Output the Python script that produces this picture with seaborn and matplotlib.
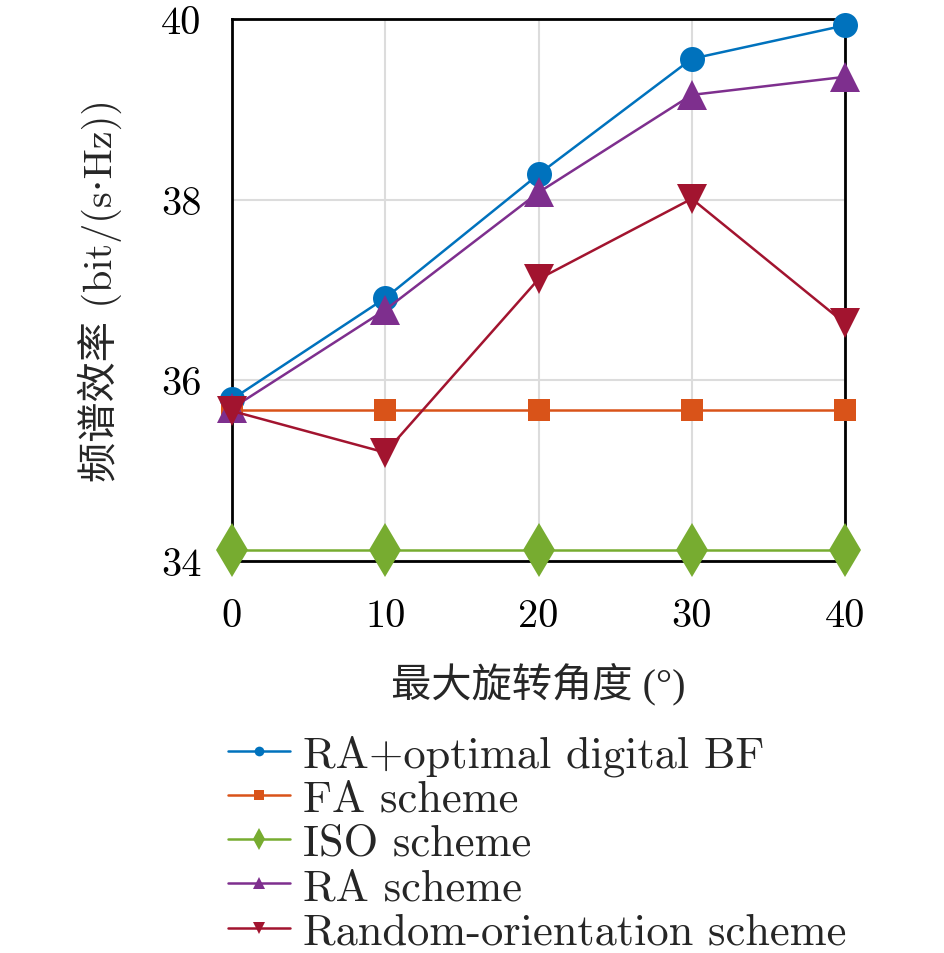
import matplotlib
matplotlib.use("Agg")
import matplotlib.pyplot as plt
import seaborn as sns
import pandas as pd

angles = [0, 10, 20, 30, 40]
ra_opt = [35.79, 36.91, 38.28, 39.56, 39.93]
fa = [35.67, 35.67, 35.67, 35.67, 35.67]
iso = [34.12, 34.12, 34.12, 34.12, 34.12]
ra = [35.69, 36.78, 38.08, 39.16, 39.36]
rand_orient = [35.66, 35.20, 37.12, 38.01, 36.63]

names = ["RA+optimal digital BF", "FA scheme", "ISO scheme", "RA scheme",
         "Random-orientation scheme"]
series = [ra_opt, fa, iso, ra, rand_orient]
colors = ["#0072BD", "#D95319", "#77AC30", "#7E2F8E", "#A2142F"]
markers = ["o", "s", "d", "^", "v"]
msizes = [18, 15.5, 27, 21, 21]
leg_msizes = [7, 7, 11, 8.5, 8.5]
xticks = [0, 10, 20, 30, 40]
yticks = [34, 36, 38, 40]

sns.set_style("white")
plt.rcParams['font.family'] = ['cmr10', 'DejaVu Serif', 'Noto Sans CJK SC']
plt.rcParams['axes.formatter.use_mathtext'] = True
plt.rcParams['axes.unicode_minus'] = False

fig = plt.figure(figsize=(9.45, 9.54), dpi=100)
ax = fig.add_axes([0.2455, 0.411, 0.6487, 0.568])

for name, vals, c, m, ms in zip(names, series, colors, markers, msizes):
    df = pd.DataFrame({"x": angles, "y": vals})
    sns.lineplot(data=df, x="x", y="y", ax=ax, color=c, marker=m,
                 markersize=ms, markeredgewidth=0, linewidth=1.8,
                 label=name, clip_on=False, zorder=3)

ax.set_xlim(0, 40)
ax.set_ylim(34, 40)
ax.set_xticks(xticks)
ax.set_yticks(yticks)
ax.set_xticklabels([str(t) for t in xticks])
ax.set_yticklabels([str(t) for t in yticks])
ax.grid(True, color="#dcdcdc", linewidth=1.5)
ax.set_axisbelow(True)
for sp in ax.spines.values():
    sp.set_visible(True)
    sp.set_color("black")
    sp.set_linewidth(2.0)
    sp.set_zorder(2.5)
ax.tick_params(axis='both', direction='in', length=5, width=1.5,
               labelsize=29, colors='black')
ax.tick_params(axis='x', pad=27)
ax.tick_params(axis='y', pad=22)

ax.set_xlabel("最大旋转角度 (°)", fontsize=29, labelpad=20,
              family=['Liberation Serif', 'Noto Sans CJK SC'])
ax.set_ylabel("频谱效率 (bit/(s·Hz))", fontsize=29, labelpad=28,
              family=['cmr10', 'DejaVu Serif', 'Noto Sans CJK SC'])

leg = ax.legend(loc="upper left", bbox_to_anchor=(-0.036, -0.287),
                frameon=False, fontsize=32, handlelength=1.4,
                handletextpad=0.3, labelspacing=0.09, borderaxespad=0)
for h, lms in zip(leg.legend_handles, leg_msizes):
    h.set_markersize(lms)

fig.savefig("out.png", dpi=100)
